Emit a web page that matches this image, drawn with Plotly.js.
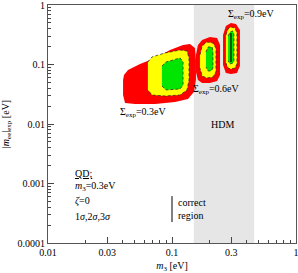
<!DOCTYPE html>
<html><head><meta charset="utf-8">
<script src="https://cdn.plot.ly/plotly-3.0.1.min.js"></script>
<style>html,body{margin:0;padding:0;background:#fff}#chart{width:298px;height:273px}</style>
</head><body><div id="chart"></div>
<script>
// Sigma_exp = 0.3 eV region (3σ red, 2σ yellow, 1σ green)
const b1RedX = [0.0410,0.0442,0.0552,0.0730,0.0964,0.1228,0.1396,0.153,0.156,0.156,0.150,0.1346,0.1057,0.0730,0.0504,0.0418,0.0403,0.0403];
const b1RedY = [0.0666,0.0809,0.102,0.129,0.175,0.213,0.221,0.189,0.119,0.0549,0.0345,0.0263,0.0234,0.0217,0.0217,0.0225,0.0307,0.0549];
const b1YelX = [0.0639,0.0690,0.0879,0.1161,0.1322,0.1371,0.1371,0.1322,0.1161,0.0879,0.0690,0.0639];
const b1YelY = [0.110,0.134,0.156,0.175,0.169,0.129,0.0549,0.0373,0.0307,0.0296,0.0307,0.0373];
const b1GrnX = [0.0830,0.0895,0.1161,0.1228,0.1228,0.1161,0.0895,0.0830];
const b1GrnY = [0.0944,0.110,0.129,0.110,0.0452,0.0388,0.0373,0.0435];
// Sigma_exp = 0.6 eV
const b2RedX = [0.156,0.162,0.175,0.202,0.231,0.244,0.244,0.231,0.202,0.175,0.162,0.156];
const b2RedY = [0.145,0.213,0.258,0.290,0.279,0.213,0.0666,0.0528,0.0489,0.0489,0.0549,0.0748];
const b2YelX = [0.168,0.175,0.191,0.214,0.226,0.226,0.214,0.191,0.175,0.168];
const b2YelY = [0.145,0.205,0.239,0.230,0.189,0.0748,0.0616,0.0593,0.0641,0.0873];
const b2GrnX = [0.188,0.195,0.211,0.214,0.214,0.207,0.195,0.188];
const b2GrnY = [0.162,0.197,0.197,0.162,0.0873,0.0778,0.0778,0.0908];
// Sigma_exp = 0.9 eV
const b3RedX = [0.258,0.272,0.299,0.328,0.353,0.353,0.334,0.299,0.272,0.258];
const b3RedY = [0.313,0.444,0.498,0.480,0.380,0.0944,0.0719,0.0692,0.0719,0.098];
const b3YelX = [0.272,0.283,0.299,0.322,0.334,0.334,0.322,0.299,0.283,0.272];
const b3YelY = [0.313,0.395,0.427,0.410,0.338,0.102,0.0873,0.084,0.0873,0.106];
const b3GrnX = [0.283,0.294,0.310,0.316,0.316,0.310,0.294,0.283];
const b3GrnY = [0.301,0.352,0.366,0.313,0.115,0.106,0.102,0.115];
// correct region line
const corrX = [0.299,0.299];
const corrY = [0.338,0.110];
// HDM band
const hdmRange = [0.15,0.46];
// ticks
const xTicks = [0.01,0.03,0.1,0.3,1];
const xTickText = ['0.01','0.03','0.1','0.3','1'];
const yTicks = [0.0001,0.001,0.01,0.1,1];
const yTickText = ['0.0001','0.001','0.01','0.1','1'];
const minorDigits = [2,3,4,5,6,7,8,9];
const xDecades = [0.01,0.1];
const yDecades = [0.0001,0.001,0.01,0.1];
const xMinor = [], yMinor = [];
xDecades.forEach(d=>minorDigits.forEach(m=>xMinor.push(d*m)));
yDecades.forEach(d=>minorDigits.forEach(m=>yMinor.push(d*m)));

const RED='#ff0000', YEL='#ffff00', GRN='#00e600';
function blob(x,y,col,dashed){
  return {x:x,y:y,type:'scatter',mode:'lines',fill:'toself',fillcolor:col,
    line:dashed?{color:'#222',width:0.7,dash:'3px,2px'}:{color:col,width:0},
    hoverinfo:'skip',showlegend:false};
}
const data = [
  blob(b1RedX,b1RedY,RED,false), blob(b1YelX,b1YelY,YEL,true), blob(b1GrnX,b1GrnY,GRN,true),
  blob(b2RedX,b2RedY,RED,false), blob(b2YelX,b2YelY,YEL,true), blob(b2GrnX,b2GrnY,GRN,true),
  blob(b3RedX,b3RedY,RED,false), blob(b3YelX,b3YelY,YEL,true), blob(b3GrnX,b3GrnY,GRN,true),
  {x:corrX,y:corrY,type:'scatter',mode:'lines',line:{color:'#000',width:1.2},hoverinfo:'skip',showlegend:false},
  {x:[0.5],y:[0.5],xaxis:'x2',yaxis:'y2',type:'scatter',mode:'markers',marker:{opacity:0},hoverinfo:'skip',showlegend:false}
];
const F = {family:'"Liberation Serif", "DejaVu Serif", serif', size:10, color:'#000'};
const axCommon = {type:'log',ticks:'inside',tickcolor:'#444',tickwidth:1,showgrid:false,zeroline:false,tickfont:F,ticklabeloverflow:'allow'};
const layout = {
  width:298,height:273,margin:{l:48,r:2,t:5,b:30},
  paper_bgcolor:'#fff',plot_bgcolor:'rgba(0,0,0,0)',font:F,showlegend:false,
  xaxis:Object.assign({},axCommon,{range:[-2,0],tickmode:'array',tickvals:xTicks,ticktext:xTickText,ticklen:6,
    showline:true,linecolor:'#555',linewidth:1,mirror:true,layer:'above traces',
    title:{text:'<i>m</i><sub>3</sub> [eV]',font:F,standoff:4}}),
  yaxis:Object.assign({},axCommon,{range:[-4,0],tickmode:'array',tickvals:yTicks,ticktext:yTickText,ticklen:6,
    showline:true,linecolor:'#555',linewidth:1,mirror:true,layer:'above traces',
    title:{text:'|<i>m</i><sub>ee</sub>|<sub>exp</sub> [eV]',font:F,standoff:6}}),
  xaxis2:Object.assign({},axCommon,{overlaying:'x',anchor:'y',side:'bottom',range:[-2,0],tickmode:'array',tickvals:xMinor,ticklen:3,showticklabels:false,showline:false,layer:'above traces'}),
  yaxis2:Object.assign({},axCommon,{overlaying:'y',anchor:'x',side:'left',range:[-4,0],tickmode:'array',tickvals:yMinor,ticklen:3,showticklabels:false,showline:false,layer:'above traces'}),
  shapes:[
    {type:'rect',xref:'x',yref:'paper',x0:hdmRange[0],x1:hdmRange[1],y0:0,y1:1,fillcolor:'#e6e6e6',line:{width:0},layer:'below'},
    {type:'line',xref:'paper',yref:'paper',x0:0.5,x1:0.5,y0:0.088,y1:0.197,line:{color:'#000',width:1}}
  ],
  annotations:[
    {xref:'paper',yref:'paper',x:0.387,y:0.550,xanchor:'center',yanchor:'middle',text:'Σ<sub>exp</sub>=0.3eV',showarrow:false,font:F},
    {xref:'paper',yref:'paper',x:0.681,y:0.643,xanchor:'center',yanchor:'middle',text:'Σ<sub>exp</sub>=0.6eV',showarrow:false,font:F},
    {xref:'paper',yref:'paper',x:0.819,y:0.958,xanchor:'center',yanchor:'middle',text:'Σ<sub>exp</sub>=0.9eV',showarrow:false,font:F},
    {xref:'paper',yref:'paper',x:0.702,y:0.496,xanchor:'center',yanchor:'middle',text:'HDM',showarrow:false,font:F},
    {xref:'paper',yref:'paper',x:0.101,y:0.294,xanchor:'left',yanchor:'middle',text:'<span style="text-decoration:underline">QD;</span>',showarrow:false,font:F},
    {xref:'paper',yref:'paper',x:0.101,y:0.239,xanchor:'left',yanchor:'middle',text:'<i>m</i><sub>3</sub>=0.3eV',showarrow:false,font:F},
    {xref:'paper',yref:'paper',x:0.101,y:0.176,xanchor:'left',yanchor:'middle',text:'<i>ζ</i>=0',showarrow:false,font:F},
    {xref:'paper',yref:'paper',x:0.101,y:0.113,xanchor:'left',yanchor:'middle',text:'1<i>σ</i>,2<i>σ</i>,3<i>σ</i>',showarrow:false,font:F},
    {xref:'paper',yref:'paper',x:0.515,y:0.141,xanchor:'left',yanchor:'middle',align:'left',text:'correct<br>region',showarrow:false,font:F}
  ]
};
Plotly.newPlot('chart',data,layout,{staticPlot:true,displayModeBar:false});
</script></body></html>
